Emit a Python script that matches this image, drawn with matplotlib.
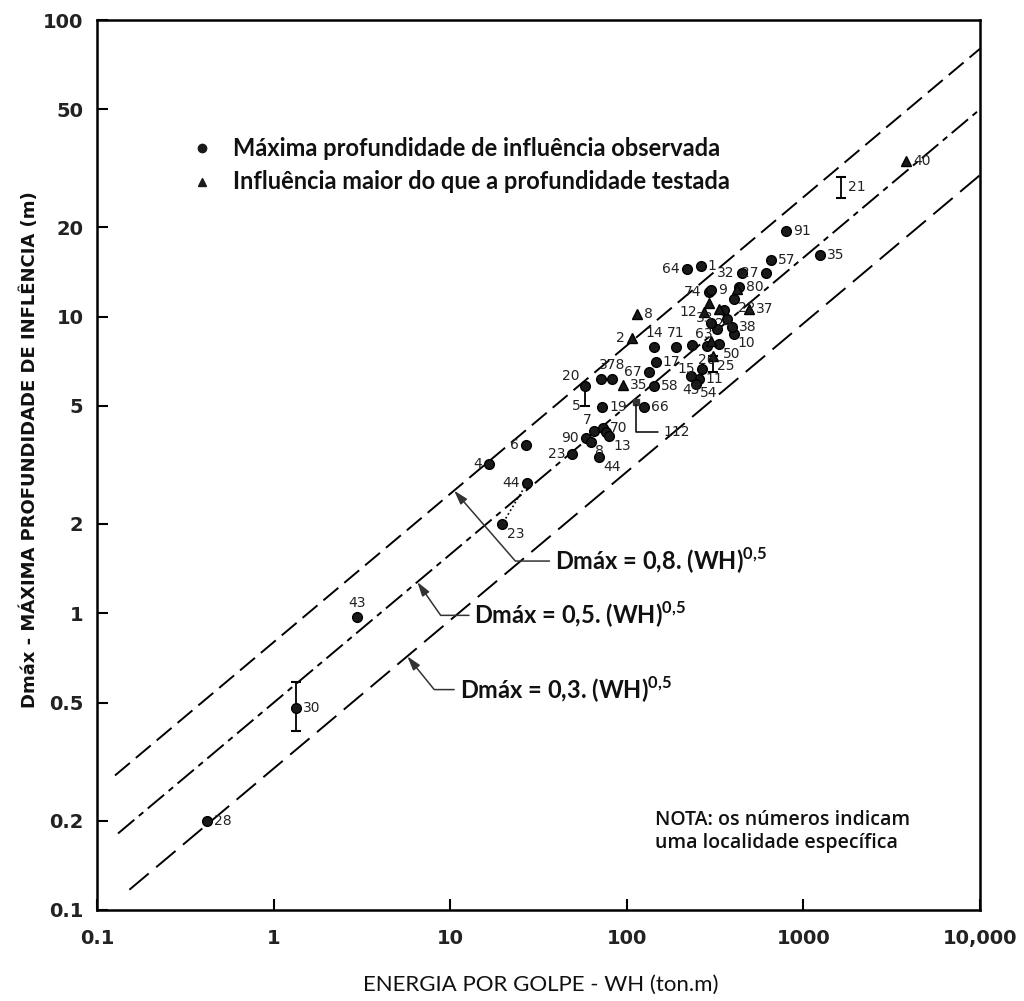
import matplotlib.pyplot as plt
import numpy as np

plt.rcParams['mathtext.fontset'] = 'custom'
plt.rcParams['mathtext.rm'] = 'Lato'
plt.rcParams['mathtext.bf'] = 'Lato:bold'

# retas Dmax = n * (WH)^0.5
n_coef = [0.8, 0.5, 0.3]
wh_ini = [0.126, 0.131, 0.152]
wh_fim = 10000
n_label = ['0,8', '0,5', '0,3']
# onde a seta toca a reta e onde fica o texto
seta_wh = [10.5, 6.5, 5.7]
texto_xy = [(39.2, 1.50), (13.7, 0.984), (11.3, 0.553)]
seta_ang = [-49, -55, -51]

# circulos: máxima profundidade observada
circ_x = [0.42, 1.33, 2.95, 19.7, 27.2, 16.6, 26.9, 48.9, 58.6, 65.2, 73, 76, 79, 62.7,
          69.5, 72.3, 57.9, 71.3, 82.2, 133, 146, 142, 142, 189, 233, 218, 262, 447,
          610, 651, 801, 1248, 430, 290, 300, 125, 255, 265, 230, 245, 283, 331, 322,
          403, 393, 353, 403, 370, 300]
circ_y = [0.20, 0.48, 0.97, 2.0, 2.75, 3.18, 3.70, 3.44, 3.90, 4.12, 4.2, 4.08, 3.96, 3.79,
          3.37, 4.96, 5.85, 6.18, 6.18, 6.5, 7.05, 7.93, 5.85, 7.93, 8.03, 14.5, 14.8, 14.0,
          14.0, 15.5, 19.5, 16.2, 12.6, 12.1, 12.3, 4.97, 6.18, 6.67, 6.33, 5.95, 7.98, 8.1, 9.1,
          8.77, 9.25, 10.5, 11.5, 9.8, 9.5]
circ_lab = ['28', '30', '43', '23', '44', '4', '6', '23', '90', '7', '70', '', '13', '8',
            '44', '19', '20', '', '378', '67', '17', '14', '58', '71', '63', '64', '1', '32',
            '27', '57', '91', '35', '80', '74', '9', '66', '11', '15', '45', '54', '26', '50', '33',
            '10', '38', '24', '22', '', '']
circ_lado = ['r', 'r', 'a', 'rb', 'l', 'l', 'l', 'l', 'l', 'al', 'r', '', 'rb', 'rb',
             'rb', 'r', 'la', '', 'a', 'l', 'r', 'a', 'r', 'a', 'ar', 'l', 'r', 'l',
             'l', 'r', 'r', 'r', 'r', 'l', 'r', 'r', 'r', 'l', 'b', 'rb', 'b', 'rb', 'al',
             'rb', 'r', 'b', 'rb', '', '']

# triangulos: influência maior do que a profundidade testada
tri_x = [107, 114, 94.8, 272, 489, 306, 3820, 331, 290, 418, 300]
tri_y = [8.5, 10.2, 5.89, 10.4, 10.6, 7.38, 33.4, 10.6, 11.1, 12.4, 8.3]
tri_lab = ['2', '8', '35', '12', '37', '25', '40', '', '', '', '']
tri_lado = ['l', 'r', 'r', 'l', 'r', 'rb', 'r', '', '', '', '']

# faixas (barras verticais)
faixa_x = [1.33, 58, 1640, 306]
faixa_min = [0.40, 5.0, 25.2, 6.52]
faixa_max = [0.585, 5.85, 29.5, 7.38]
faixa_lab = ['', '5', '21', '']
faixa_lado = ['', 'lb', 'r', '']

# ponto 112
p112_x, p112_y = 112, 5.16
p112_txt = (162, 4.08)

x_ticks = [0.1, 1, 10, 100, 1000, 10000]
x_ticklab = ['0.1', '1', '10', '100', '1000', '10,000']
y_ticks = [0.1, 0.2, 0.5, 1, 2, 5, 10, 20, 50, 100]
y_ticklab = ['0.1', '0.2', '0.5', '1', '2', '5', '10', '20', '50', '100']

desl = {'r': (5, 0, 'left', 'center'), 'l': (-5, 0, 'right', 'center'),
        'a': (0, 5, 'center', 'bottom'), 'b': (0, -5, 'center', 'top'),
        'rb': (3, -2, 'left', 'top'), 'lb': (-3, -2, 'right', 'top'),
        'al': (-2, 3, 'right', 'bottom'), 'ar': (2, 3, 'left', 'bottom'),
        'la': (-4, 2, 'right', 'bottom')}

fig = plt.figure(figsize=(10.24, 10.01), dpi=100)
ax = fig.add_axes([0.095, 0.091, 0.862, 0.889])
ax.set_xscale('log')
ax.set_yscale('log')
ax.set_xlim(0.1, 10000)
ax.set_ylim(0.1, 100)


def rotulo(x, y, txt, lado):
    if not txt:
        return
    dx, dy, ha, va = desl[lado]
    ax.annotate(txt, (x, y), xytext=(dx, dy), textcoords='offset points',
                ha=ha, va=va, fontsize=10, color='#222', family='DejaVu Sans')


estilos = [(0, (10, 4)), (0, (11, 3, 3, 3)), (0, (13, 5))]
for n, w0, ls in zip(n_coef, wh_ini, estilos):
    wh = np.logspace(np.log10(w0), np.log10(wh_fim), 200)
    ax.plot(wh, n * np.sqrt(wh), color='black', lw=1.4, linestyle=ls)

for n, lab, sw, txy, ang in zip(n_coef, n_label, seta_wh, texto_xy, seta_ang):
    ax.annotate('Dmáx = ' + lab + '. (WH)$^{\\mathbf{0{,}5}}$',
                xy=(sw, n * np.sqrt(sw)), xytext=txy, ha='left', va='center',
                fontsize=17, fontweight='bold', family='Lato', color='#111',
                arrowprops=dict(arrowstyle='-|>,head_length=0.5,head_width=0.15',
                                color='#333', lw=1.1, relpos=(0, 0.5), shrinkA=2, shrinkB=0,
                                connectionstyle='angle,angleA=0,angleB=%d,rad=0' % ang))

# linha pontilhada entre 44 e 23
ax.plot([circ_x[4], circ_x[3]], [circ_y[4], circ_y[3]], color='black', lw=1.2, linestyle=':')

for x, lo, hi, lab, lado in zip(faixa_x, faixa_min, faixa_max, faixa_lab, faixa_lado):
    ax.plot([x, x], [lo, hi], color='black', lw=1.3)
    ax.plot([x, x], [lo, hi], color='black', lw=0, marker='_', markersize=7, mew=1.5)
    rotulo(x, np.sqrt(lo * hi), lab, lado)

ax.plot(circ_x, circ_y, 'o', color='#1a1a1a', markersize=7, mec='black', mew=1)
ax.plot(tri_x, tri_y, '^', color='#1a1a1a', markersize=7.5, mec='black')
for x, y, t, lado in zip(circ_x, circ_y, circ_lab, circ_lado):
    rotulo(x, y, t, lado)
for x, y, t, lado in zip(tri_x, tri_y, tri_lab, tri_lado):
    rotulo(x, y, t, lado)

ax.plot([p112_x], [p112_y], 's', color='#333', markersize=5)
ax.annotate('112', xy=(p112_x, p112_y), xytext=p112_txt, ha='left', va='center',
            fontsize=10, color='#222',
            arrowprops=dict(arrowstyle='-', color='black', lw=1.1, relpos=(0, 0.5),
                            shrinkA=2, shrinkB=2,
                            connectionstyle='angle,angleA=0,angleB=90,rad=0'))

# legenda
ax.plot([0.119], [0.856], 'o', color='#1a1a1a', markersize=6, transform=ax.transAxes)
ax.plot([0.119], [0.818], '^', color='#1a1a1a', markersize=6, transform=ax.transAxes)
ax.text(0.154, 0.856, 'Máxima profundidade de influência observada', transform=ax.transAxes,
        fontsize=17, fontweight='bold', family='Lato', va='center', color='#111')
ax.text(0.154, 0.818, 'Influência maior do que a profundidade testada', transform=ax.transAxes,
        fontsize=17, fontweight='bold', family='Lato', va='center', color='#111')

ax.text(0.632, 0.088, 'NOTA: os números indicam\numa localidade específica',
        transform=ax.transAxes, fontsize=14, fontweight='semibold', family='Open Sans',
        va='center', linespacing=1.2, color='#111')

ax.xaxis.set_major_locator(plt.FixedLocator(x_ticks))
ax.xaxis.set_major_formatter(plt.FixedFormatter(x_ticklab))
ax.yaxis.set_major_locator(plt.FixedLocator(y_ticks))
ax.yaxis.set_major_formatter(plt.FixedFormatter(y_ticklab))
ax.xaxis.set_minor_locator(plt.NullLocator())
ax.yaxis.set_minor_locator(plt.NullLocator())
ax.tick_params(direction='in', length=8, width=1.5, labelsize=14, pad=10)
ax.tick_params(axis='x', pad=14)
for lb in ax.get_xticklabels() + ax.get_yticklabels():
    lb.set_fontweight('bold')
    lb.set_color('#222')
for s in ax.spines.values():
    s.set_linewidth(1.8)

ax.set_xlabel('ENERGIA POR GOLPE - WH (ton.m)', fontsize=16, family='Lato', color='#111')
ax.xaxis.set_label_coords(0.502, -0.084)
ax.xaxis.label.set_va('center')
ax.set_ylabel('Dmáx - MÁXIMA PROFUNDIDADE DE INFLÊNCIA (m)', fontsize=13, fontweight='bold',
              family=['Liberation Sans Narrow', 'DejaVu Sans'], color='#111')
ax.yaxis.set_label_coords(-0.076, 0.517)
ax.yaxis.label.set_va('center')

fig.savefig('out.png', dpi=100)
